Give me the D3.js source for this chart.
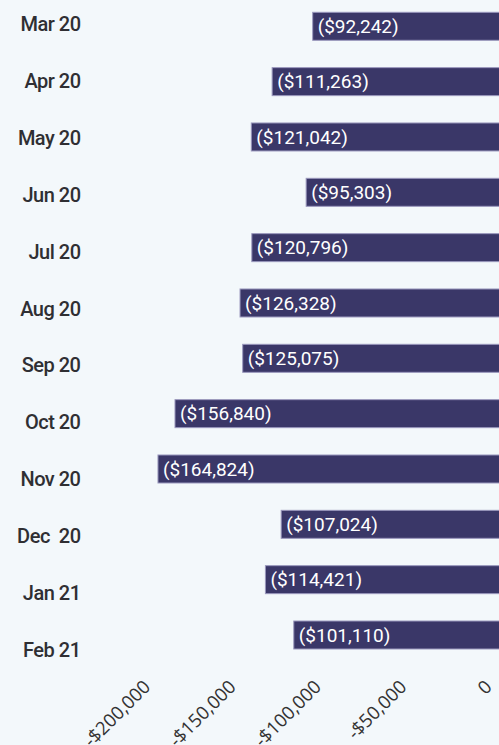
<!DOCTYPE html>
<html>
<head>
<meta charset="utf-8">
<script src="https://cdn.jsdelivr.net/npm/d3@7"></script>
<style>
  html, body { margin: 0; padding: 0; background: #f3f8fb; overflow: hidden; }
  svg { display: block; }
</style>
</head>
<body>
<svg id="chart" width="499" height="745"></svg>
<script>
// Monthly net result, Mar 2020 – Feb 2021 (negative = loss)
const months = ["Mar 20", "Apr 20", "May 20", "Jun 20", "Jul 20", "Aug 20",
                "Sep 20", "Oct 20", "Nov 20", "Dec  20", "Jan 21", "Feb 21"];
const values = [-92242, -111263, -121042, -95303, -120796, -126328,
                -125075, -156840, -164824, -107024, -114421, -101110];
const tickValues = [-200000, -150000, -100000, -50000, 0];

const W = 499, H = 745;
const svg = d3.select("#chart");

svg.append("rect").attr("width", W).attr("height", H).attr("fill", "#f3f8fb");

// value scale for the bars (zero sits just past the right edge)
const x = d3.scaleLinear().domain([-200000, 0]).range([83, 509.3]);
// scale used by the bottom axis labels
const xAxisScale = d3.scaleLinear().domain([-200000, 0]).range([151, 492.5]);

// bar centres and category label baselines
const yBar = d3.scalePoint().domain(months).range([26.3, 635]);
const yLabel = d3.scalePoint().domain(months).range([31, 657]);

const barH = 28;
const data = months.map((m, i) => ({ month: m, value: values[i] }));

const fmtMoney = v => "($" + d3.format(",")(Math.abs(v)) + ")";

// bars
svg.append("g").selectAll("rect")
  .data(data)
  .join("rect")
  .attr("x", d => x(d.value))
  .attr("y", d => yBar(d.month) - barH / 2)
  .attr("width", d => x(0) - x(d.value))
  .attr("height", barH)
  .attr("fill", "#3a3768")
  .attr("stroke", "#9a98bd")
  .attr("stroke-width", 1);

// value labels inside the bars
svg.append("g").selectAll("text")
  .data(data)
  .join("text")
  .attr("x", d => x(d.value) + 5)
  .attr("y", d => yBar(d.month))
  .attr("dy", "0.35em")
  .attr("fill", "#ffffff")
  .style("font-family", "Roboto, 'Noto Sans', sans-serif")
  .style("font-size", "19px")
  .style("font-weight", 400)
  .text(d => fmtMoney(d.value));

// category labels
svg.append("g").selectAll("text")
  .data(months)
  .join("text")
  .attr("x", 80.5)
  .attr("y", d => yLabel(d))
  .attr("text-anchor", "end")
  .attr("fill", "#2f2f33")
  .style("font-family", "Roboto, 'Noto Sans', sans-serif")
  .style("font-size", "20px")
  .style("font-weight", 500)
  .style("letter-spacing", "-0.5px")
  .style("white-space", "pre")
  .text(d => d);

// bottom axis with rotated tick labels
const axis = d3.axisBottom(xAxisScale)
  .tickValues(tickValues)
  .tickSize(0)
  .tickPadding(0)
  .tickFormat(v => v === 0 ? "0" : "-$" + d3.format(",")(-v));

const gAxis = svg.append("g")
  .attr("transform", "translate(0,688)")
  .call(axis);
gAxis.select(".domain").remove();
gAxis.selectAll("text")
  .attr("x", 0)
  .attr("y", 0)
  .attr("dy", 0)
  .attr("transform", "rotate(-45)")
  .style("text-anchor", "end")
  .attr("fill", "#333")
  .style("font-family", "'Open Sans', sans-serif")
  .style("font-size", "18.5px");
</script>
</body>
</html>
